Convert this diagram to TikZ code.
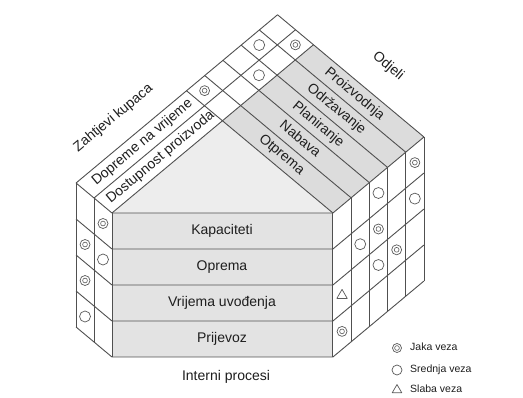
\documentclass[tikz,border=0pt]{standalone}
\usepackage{fontspec}
\setmainfont{Liberation Sans}
\usetikzlibrary{shapes.geometric}
\definecolor{lc}{HTML}{505050}
\definecolor{boxf}{HTML}{E3E3E3}
\definecolor{rooff}{HTML}{EDEDED}
\definecolor{bandf}{HTML}{DCDCDC}
\definecolor{symc}{HTML}{5A5A5A}
\definecolor{txt}{HTML}{1E1E1E}
\newcommand\defpt[3]{\coordinate (#1) at ({((#2)-(#3))/1.67},{((#2)+(#3))/2});}
\begin{document}
\begin{tikzpicture}[x=1pt,y=-1pt,line join=round,
  ln/.style={draw=lc,line width=0.9pt},
  lbl/.style={text=txt,font=\fontsize{14}{14}\selectfont,inner sep=0pt,text height=10pt,text depth=3pt},
  lgd/.style={text=txt,font=\fontsize{10.5}{10.5}\selectfont,inner sep=0pt,anchor=west,text height=7.5pt,text depth=2pt},
  strong/.style={circle,draw=symc,line width=0.7pt,minimum size=10pt,inner sep=0pt,
     path picture={\draw[symc,line width=0.6pt] (path picture bounding box.center) circle (2.4pt);}},
  medium/.style={circle,draw=symc,line width=0.7pt,minimum size=11pt,inner sep=0pt},
  weak/.style={regular polygon,regular polygon sides=3,draw=symc,line width=0.7pt,minimum size=12pt,inner sep=0pt},
]
\useasboundingbox (0,0) rectangle (523,397);
\fill[white] (0,0) rectangle (523,397);
% coordinates
\foreach \i/\c in {0/246.5,1/276.5,2/306.5}{
  \foreach \k/\d in {0/-217,1/-186.6,2/-156.2,3/-125.8,4/-95.4,5/-65}{
    \defpt{a\i-\k}{\c}{\d}
  }
  \defpt{e\i}{\c}{119.5}
}
\foreach \k/\d in {0/-217,1/-186.6,2/-156.2,3/-125.8,4/-95.4,5/-65}{
  \defpt{f-\k}{491}{\d}
}
\coordinate (boxbr) at (332.93,357);
% fills
\fill[bandf] (a2-0) -- (f-0) -- (f-5) -- (a2-5) -- cycle;
\fill[rooff] (e2) -- (a2-5) -- (f-5) -- cycle;
\fill[boxf] (e2) rectangle (boxbr);
% lines
\foreach \i in {0,1,2} \draw[ln] (e\i) -- (a\i-0);
\foreach \k in {0,...,5} \draw[ln] (a0-\k) -- (f-\k);
\foreach \k in {0,...,4} \draw[ln] ({76.05},{183+36*\k}) -- ({111.98},{213+36*\k}) -- ({332.93},{213+36*\k}) -- ({423.95},{137+36*\k});
\foreach \x/\t in {76.05/183, 94.01/198, 111.98/213, 332.93/213, 351.14/197.8, 369.34/182.6, 387.54/167.4, 405.75/152.2, 423.95/137}
  \draw[ln] ({\x},{\t}) -- ({\x},{\t+144});
% top grid symbols
\defpt{g1}{261.5}{-80.2}   \node[strong] (sg1) at (g1) {};
\defpt{g2}{261.5}{-171.4}  \node[medium] (sg2) at (g2) {};
\defpt{g3}{291.5}{-201.8}  \node[strong] (sg3) at (g3) {};
\defpt{g4}{291.5}{-141}    \node[medium] (sg4) at (g4) {};
% left face symbols
\node[strong] (sl1) at (103,223.5) {};
\node[medium] (sl2) at (103,259.5) {};
\node[strong] (sl3) at (85.03,244.5) {};
\node[strong] (sl4) at (85.03,280.5) {};
\node[medium] (sl5) at (85.03,316.5) {};
% right face symbols
\node[weak]   (sr1) at (342.04,295.4) {};
\node[strong] (sr2) at (342.04,331.4) {};
\node[medium] (sr3) at (360.24,244.2) {};
\node[medium] (sr4) at (378.44,193.0) {};
\node[strong] (sr5) at (378.44,229.0) {};
\node[medium] (sr6) at (378.44,265.0) {};
\node[strong] (sr7) at (396.65,249.8) {};
\node[strong] (sr8) at (414.85,162.6) {};
\node[medium] (sr9) at (414.85,198.6) {};
% row labels
\node[lbl] (r1) at (222,231) {Kapaciteti};
\node[lbl] (r2) at (222,267) {Oprema};
\node[lbl] (r3) at (222,303) {Vrijema uvođenja};
\node[lbl] (r4) at (222,339) {Prijevoz};
\node[lbl] (ip) at (226,377) {Interni procesi};
% left band labels
\defpt{t1}{291.5}{23.4} \node[lbl,rotate=39.86] (lt1) at (t1) {Dostupnost proizvoda};
\defpt{t2}{261.5}{23.4} \node[lbl,rotate=39.86] (lt2) at (t2) {Dopreme na vrijeme};
\defpt{t3}{213}{23.6}   \node[lbl,rotate=39.86] (lt3) at (t3) {Zahtjevi kupaca};
% right band labels
\defpt{u1}{390}{-80.2}  \node[lbl,rotate=-39.86] (rt1) at (u1) {Otprema};
\defpt{u2}{390}{-110.6} \node[lbl,rotate=-39.86] (rt2) at (u2) {Nabava};
\defpt{u3}{390}{-141}   \node[lbl,rotate=-39.86] (rt3) at (u3) {Planiranje};
\defpt{u4}{390}{-171.4} \node[lbl,rotate=-39.86] (rt4) at (u4) {Održavanje};
\defpt{u5}{390}{-201.8} \node[lbl,rotate=-39.86] (rt5) at (u5) {Proizvodnja};
\defpt{u6}{390.5}{-257.5} \node[lbl,rotate=-39.86] (rt6) at (u6) {Odjeli};
% legend
\node[strong,minimum size=9pt] (k1) at (397,348) {};
\node[lgd] (k1t) at (410,348) {Jaka veza};
\node[medium,minimum size=10pt] (k2) at (397,370) {};
\node[lgd] (k2t) at (410,370) {Srednja veza};
\node[weak,minimum size=11pt] (k3) at (397,390) {};
\node[lgd] (k3t) at (410,390) {Slaba veza};
\end{tikzpicture}
\end{document}
